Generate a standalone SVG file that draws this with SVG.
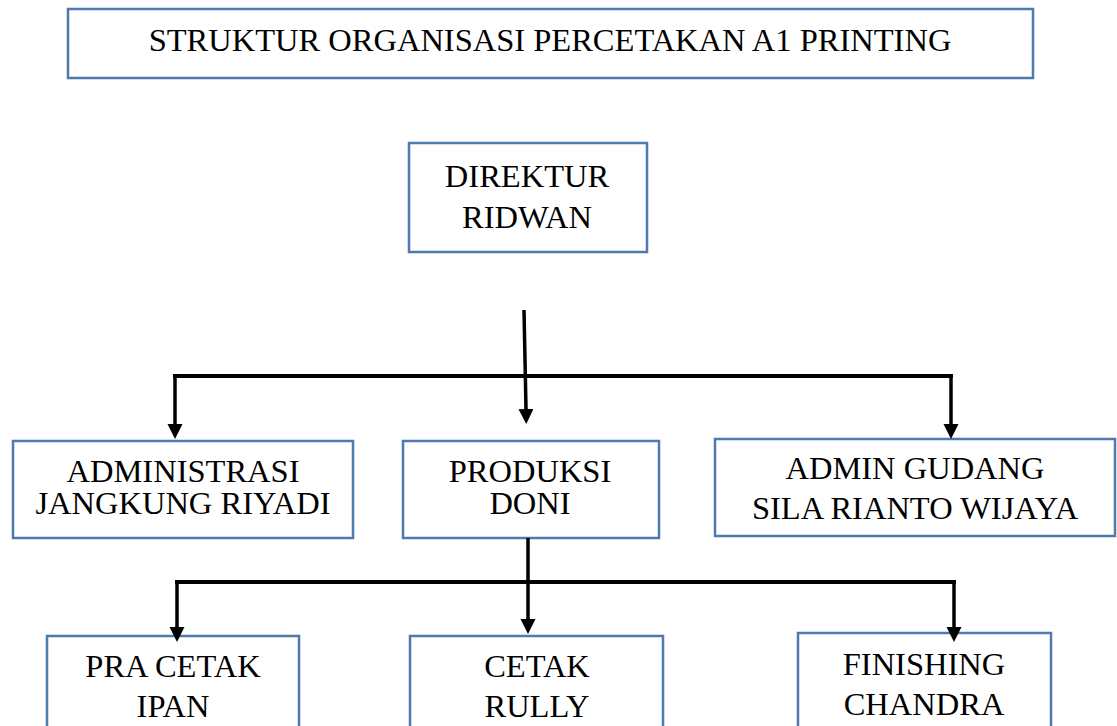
<svg xmlns="http://www.w3.org/2000/svg" width="1117" height="726" viewBox="0 0 1117 726">
<style>
.box{fill:#fff;stroke:#4f7aad;stroke-width:2.5}
.t{font-family:"Liberation Serif","Times New Roman",serif;font-size:32.5px;fill:#000;text-anchor:middle}
.c{fill:none;stroke:#000;stroke-width:4}
.cv{fill:none;stroke:#000;stroke-width:3.5}
</style>
<defs>
<marker id="ah" markerUnits="userSpaceOnUse" markerWidth="16" markerHeight="16" refX="0" refY="7.5" orient="auto">
<path d="M0,0 L15,7.5 L0,15 z" fill="#000"/>
</marker>
</defs>
<rect width="1117" height="726" fill="#fff"/>
<g id="title">
<rect class="box" x="68" y="9" width="965" height="69"/>
<text class="t" x="550" y="51">STRUKTUR ORGANISASI PERCETAKAN A1 PRINTING</text>
</g>
<g id="direktur">
<rect class="box" x="409" y="143" width="238" height="109"/>
<text class="t" x="527" y="187">DIREKTUR</text>
<text class="t" x="527" y="228">RIDWAN</text>
</g>
<g id="administrasi">
<rect class="box" x="13" y="441" width="340" height="97"/>
<text class="t" x="183" y="482">ADMINISTRASI</text>
<text class="t" x="183" y="514">JANGKUNG RIYADI</text>
</g>
<g id="produksi">
<rect class="box" x="403" y="441" width="256" height="97"/>
<text class="t" x="530" y="482">PRODUKSI</text>
<text class="t" x="530" y="514">DONI</text>
</g>
<g id="admin-gudang">
<rect class="box" x="715" y="439" width="400" height="97"/>
<text class="t" x="915" y="479">ADMIN GUDANG</text>
<text class="t" x="915" y="519">SILA RIANTO WIJAYA</text>
</g>
<g id="pra-cetak">
<rect class="box" x="47" y="636" width="252" height="100"/>
<text class="t" x="173" y="677">PRA CETAK</text>
<text class="t" x="173" y="717">IPAN</text>
</g>
<g id="cetak">
<rect class="box" x="410" y="636" width="253" height="100"/>
<text class="t" x="537" y="677">CETAK</text>
<text class="t" x="537" y="717">RULLY</text>
</g>
<g id="finishing">
<rect class="box" x="798" y="633" width="253" height="100"/>
<text class="t" x="924" y="675">FINISHING</text>
<text class="t" x="924" y="715">CHANDRA</text>
</g>
<g id="connectors">
<path class="cv" d="M524,310 L526,409" marker-end="url(#ah)"/>
<path class="c" d="M173,376 L953,376"/>
<path class="cv" d="M175,374 L175,424" marker-end="url(#ah)"/>
<path class="cv" d="M951,374 L951,424" marker-end="url(#ah)"/>
<path class="cv" d="M528,538 L528,619" marker-end="url(#ah)"/>
<path class="c" d="M175,582 L956,582"/>
<path class="cv" d="M177,580 L177,627" marker-end="url(#ah)"/>
<path class="cv" d="M954,580 L954,627" marker-end="url(#ah)"/>
</g>
</svg>
